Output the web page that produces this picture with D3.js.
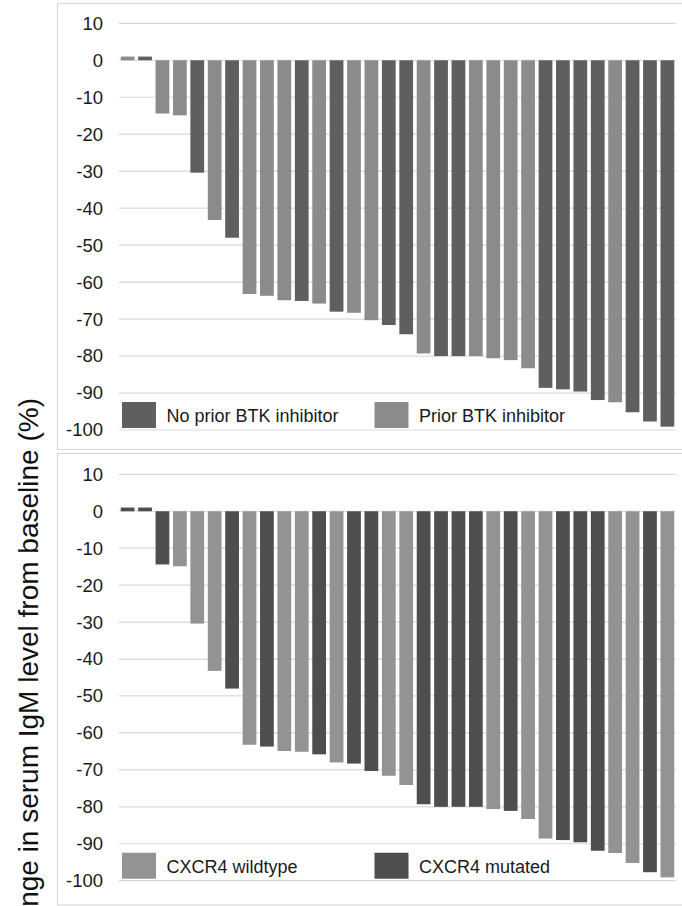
<!DOCTYPE html>
<html>
<head>
<meta charset="utf-8">
<script src="https://cdn.jsdelivr.net/npm/d3@7"></script>
<style>
body { margin:0; background:#fff; }
</style>
</head>
<body>
<svg class="chart"></svg>
<script>
// Waterfall plots of IgM change, two colourings of the same patients

// Data (percent change, sorted)
var patients = d3.range(1, 33);
var change = [1, 1, -14.4, -14.9, -30.4, -43.2, -48, -63.2, -63.7, -64.9, -65.1, -65.8,
	-68, -68.3, -70.3, -71.6, -74.1, -79.3, -80, -80, -80, -80.6, -81.1, -83.3,
	-88.6, -89, -89.6, -91.9, -92.5, -95.2, -97.7, -99.1];
// 1 = prior BTK inhibitor, 0 = none
var priorBTK = [1,0,1,1,0,1,0,1,1,1,0,1,0,1,1,0,0,1,0,0,1,1,1,1,0,0,0,0,1,0,0,0];
// 1 = CXCR4 mutated, 0 = wildtype
var cxcr4Mut = [1,1,1,0,0,0,1,0,1,0,0,1,0,1,1,0,0,1,1,1,1,0,1,0,0,1,1,1,0,0,1,0];
var yTicks = [10, 0, -10, -20, -30, -40, -50, -60, -70, -80, -90, -100];

var width = 682, height = 906;
var svg = d3.select(".chart")
	.attr("width", width)
	.attr("height", height)
	.style("font-family", "'Liberation Sans', Arial, sans-serif");

// Shared x scale
var x = d3.scaleBand()
	.domain(patients)
	.range([119, 676])
	.paddingInner(0.21)
	.paddingOuter(0.1);

var panels = [
	{ top: 3.5, bottom: 449.5, y0: 23.3, y1: 430,
		groups: priorBTK,
		colors: ["#5f5f5f", "#8b8b8b"],
		legend: [ { label: "No prior BTK inhibitor", g: 0 }, { label: "Prior BTK inhibitor", g: 1 } ] },
	{ top: 453.5, bottom: 905, y0: 474.3, y1: 880.7,
		groups: cxcr4Mut,
		colors: ["#939393", "#4e4e4e"],
		legend: [ { label: "CXCR4 wildtype", g: 0 }, { label: "CXCR4 mutated", g: 1 } ] }
];

panels.forEach(function(p) {
	// Light frame round each panel
	svg.append("rect")
		.attr("x", 57.5)
		.attr("y", p.top)
		.attr("width", 640)
		.attr("height", p.bottom - p.top)
		.attr("fill", "none")
		.attr("stroke", "#d9d9d9")
		.attr("stroke-width", 1.2);

	var y = d3.scaleLinear()
		.domain([10, -100])
		.range([p.y0, p.y1]);

	// Gridlines
	svg.append("g")
		.selectAll("line")
		.data(yTicks)
		.enter().append("line")
		.attr("x1", 119)
		.attr("x2", 676)
		.attr("y1", function(d) { return y(d); })
		.attr("y2", function(d) { return y(d); })
		.attr("stroke", "#d9d9d9")
		.attr("stroke-width", 1.2);

	// Tick labels (plain hyphen for the minus, as in the figure)
	var yAxis = d3.axisLeft(y)
		.tickValues(yTicks)
		.tickFormat(function(d) { return String(d); })
		.tickSize(0)
		.tickPadding(0);
	var ax = svg.append("g")
		.attr("class", "y axis")
		.attr("transform", "translate(103,0)")
		.call(yAxis);
	ax.select(".domain").remove();
	ax.selectAll("text")
		.style("font-size", "18.5px")
		.style("font-family", "'Liberation Sans', Arial, sans-serif")
		.attr("fill", "#1a1a1a");

	// Bars
	svg.append("g")
		.selectAll("rect")
		.data(change)
		.enter().append("rect")
		.attr("x", function(d, i) { return x(patients[i]); })
		.attr("width", x.bandwidth())
		.attr("y", function(d) { return y(Math.max(d, 0)); })
		.attr("height", function(d) { return Math.abs(y(d) - y(0)); })
		.attr("fill", function(d, i) { return p.colors[p.groups[i]]; });

	// Legend
	var ly = y(-90) + 9;
	var leg = svg.append("g")
		.selectAll("g")
		.data(p.legend)
		.enter().append("g")
		.attr("transform", function(d, i) { return "translate(" + (122 + i * 252.5) + "," + ly + ")"; });
	leg.append("rect")
		.attr("width", 34)
		.attr("height", 26)
		.attr("fill", function(d) { return p.colors[d.g]; });
	leg.append("text")
		.attr("x", 44.5)
		.attr("y", 20)
		.style("font-size", "18px")
		.attr("fill", "#1a1a1a")
		.text(function(d) { return d.label; });
});

// Shared vertical axis label (cut off at the bottom, as in the figure)
svg.append("text")
	.attr("transform", "translate(38,398) rotate(-90)")
	.style("text-anchor", "end")
	.style("font-size", "28px")
	.attr("fill", "#111")
	.text("Change in serum IgM level from baseline (%)");
</script>
</body>
</html>
